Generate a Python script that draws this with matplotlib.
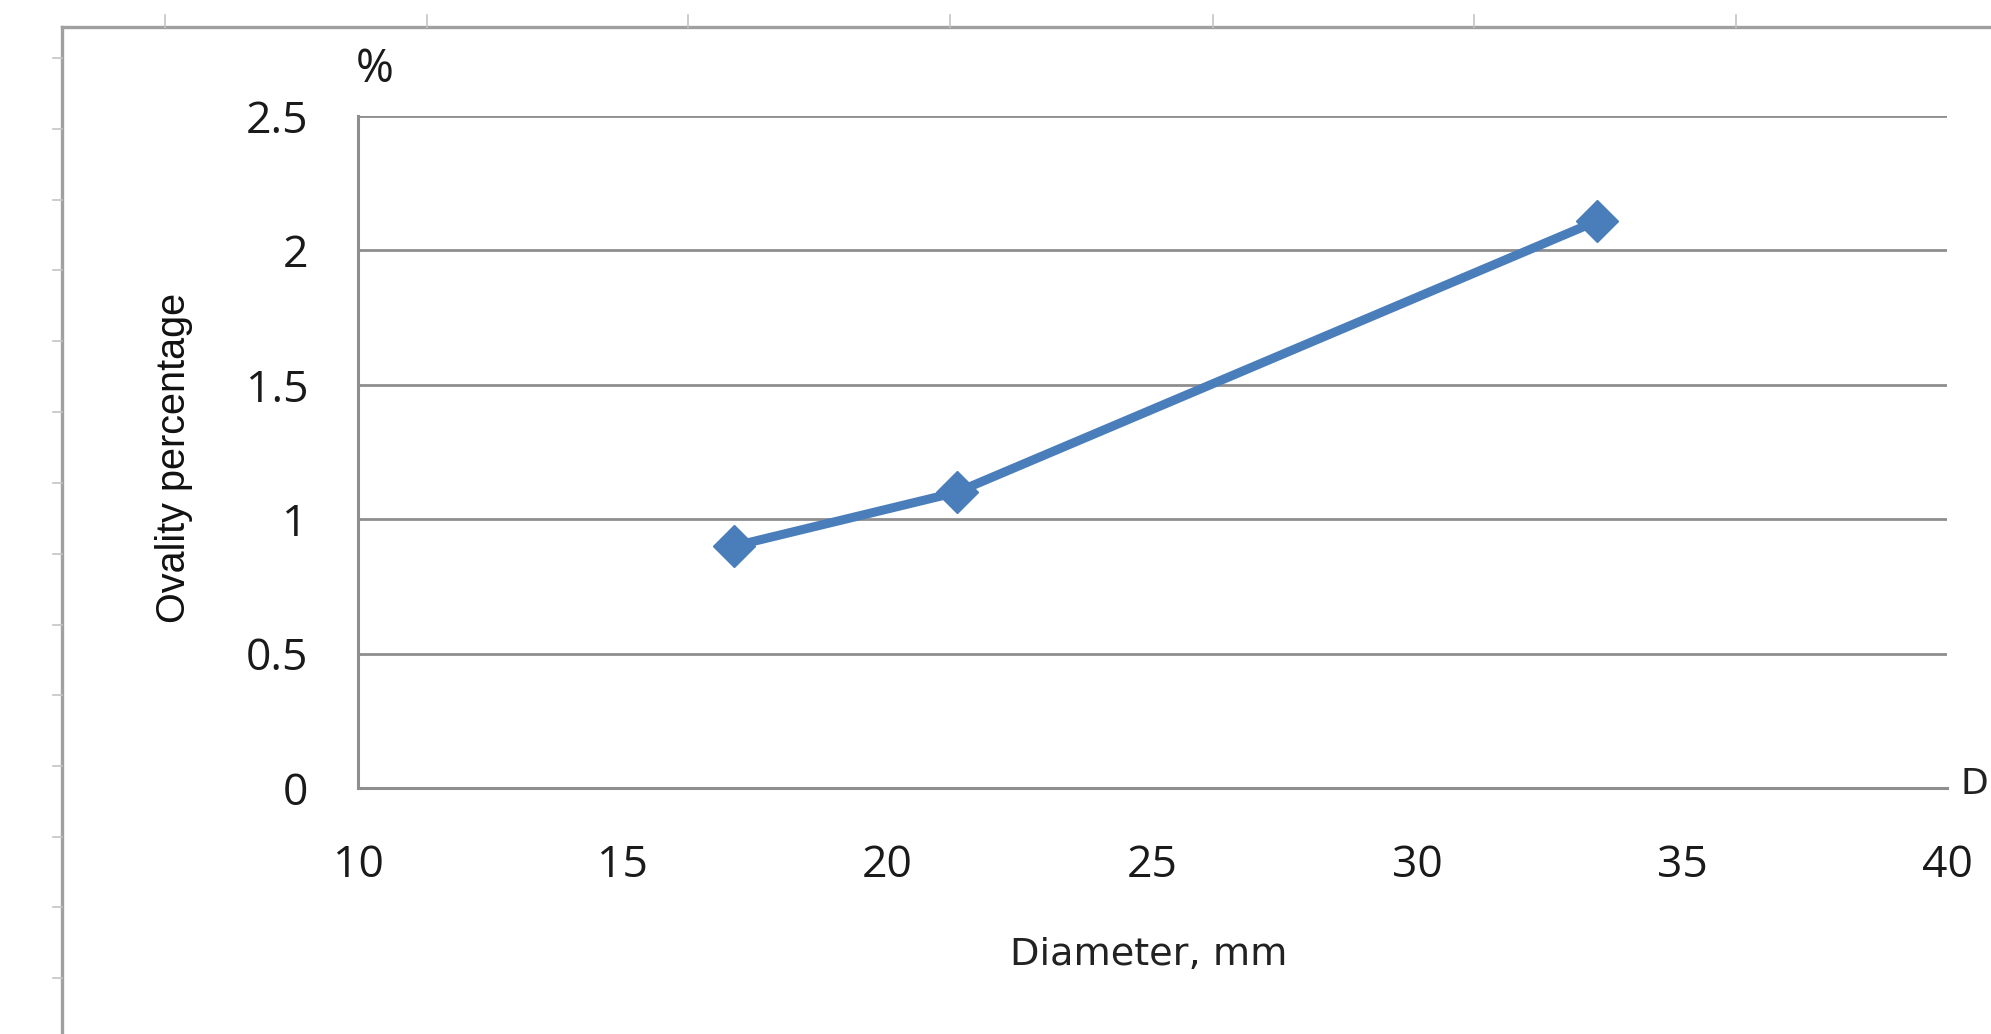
import matplotlib
matplotlib.use("Agg")
import matplotlib.pyplot as plt
from matplotlib.lines import Line2D

# Measured ovality versus bar diameter
diameter_mm = [17.1, 21.3, 33.4]
ovality_pct = [0.9, 1.1, 2.11]

x_ticks = [10, 15, 20, 25, 30, 35, 40]
y_ticks = [0, 0.5, 1, 1.5, 2, 2.5]
y_tick_labels = ["0", "0.5", "1", "1.5", "2", "2.5"]

W, H = 1991, 1034
DPI = 100
fig = plt.figure(figsize=(W / DPI, H / DPI), dpi=DPI)
fig.patch.set_facecolor("white")

def fx(px):
    return px / W

def fy(py):
    return 1 - py / H

# Plot area
left, right, top, bottom = 358, 1947, 116, 788
ax = fig.add_axes([fx(left), fy(bottom), fx(right - left), (bottom - top) / H])

grid_col = "#8e8e8e"
line_col = "#4a7ebb"

ax.plot(diameter_mm, ovality_pct, color=line_col, lw=6.5, marker="D",
        markersize=21, markerfacecolor=line_col, markeredgecolor=line_col,
        solid_joinstyle="round", zorder=3)

ax.set_xlim(10, 40)
ax.set_ylim(0, 2.5)
ax.set_xticks(x_ticks)
ax.set_yticks(y_ticks)
ax.set_yticklabels(y_tick_labels)

for lab in ax.get_xticklabels() + ax.get_yticklabels():
    lab.set_fontfamily("Open Sans")
    lab.set_fontsize(32)
    lab.set_color("#1a1a1a")
ax.tick_params(axis="both", length=0)
ax.tick_params(axis="y", pad=36)
ax.tick_params(axis="x", pad=40)

ax.grid(axis="y", color=grid_col, lw=2.0, zorder=1)
ax.set_axisbelow(True)
for side in ("top", "right"):
    ax.spines[side].set_visible(False)
for side in ("left", "bottom"):
    ax.spines[side].set_color(grid_col)
    ax.spines[side].set_linewidth(2.2)

# Axis titles
fig.text(fx(1149), fy(955), "Diameter, mm", family="DejaVu Sans", size=27.5,
         color="#222222", ha="center", va="center")
fig.text(fx(174), fy(458), "Ovality percentage", family="Liberation Sans",
         size=28.5, color="#111111", rotation=90, ha="center", va="center")
fig.text(fx(356), fy(70), "%", family="Open Sans", size=33, color="#1a1a1a",
         ha="left", va="center")
fig.text(fx(1960), fy(784), "D", family="DejaVu Sans", size=26,
         color="#222222", ha="left", va="center")

# Outer chart frame and the ruler ticks around it
frame_col = "#a0a0a0"
fig.add_artist(Line2D([fx(62), fx(62)], [fy(27), fy(H)], color=frame_col,
                      lw=2.4, transform=fig.transFigure))
fig.add_artist(Line2D([fx(62), fx(W)], [fy(27), fy(27)], color=frame_col,
                      lw=2.4, transform=fig.transFigure))
for px in [165, 427, 688, 950, 1213, 1474, 1736]:
    fig.add_artist(Line2D([fx(px), fx(px)], [fy(15), fy(27)], color="#c4c4c4",
                          lw=1.2, transform=fig.transFigure))
for py in [58, 129, 200, 270, 341, 412, 483, 554, 625, 695, 766, 837, 907, 978]:
    fig.add_artist(Line2D([fx(53), fx(62)], [fy(py), fy(py)], color="#c4c4c4",
                          lw=1.2, transform=fig.transFigure))

fig.savefig("out.png", dpi=DPI, facecolor="white")
